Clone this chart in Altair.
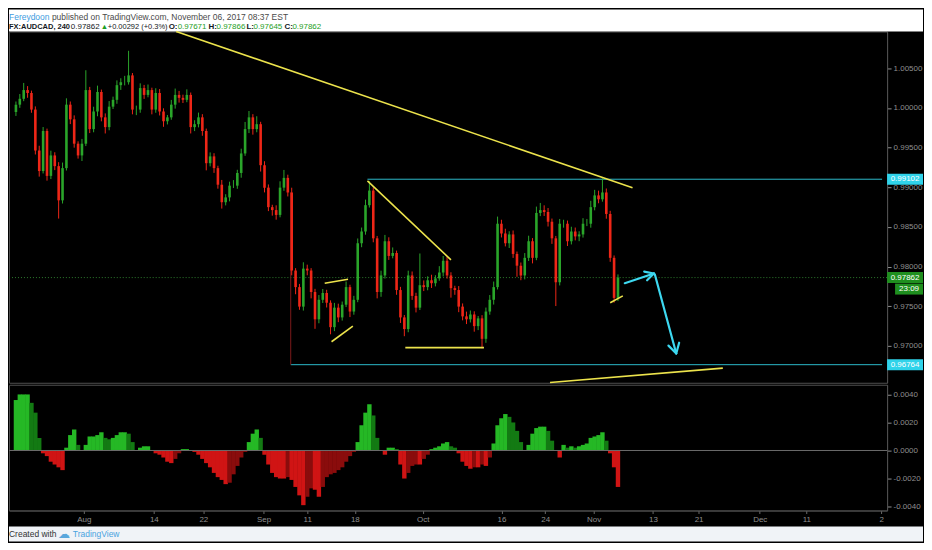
import altair as alt
import numpy as np
import pandas as pd

# AUDCAD 240 closes (one value every ~4 px)
closes = [
    1.00042, 1.00116, 1.00226, 1.00189, 0.99980, 0.99464, 0.99205, 0.99710, 0.99144, 0.99402,
    0.99267, 0.98836, 0.99242, 1.00042, 0.99857, 0.99550, 0.99402, 0.99550, 1.00226, 0.99734,
    0.99956, 1.00202, 0.99882, 0.99759, 1.00017, 1.00103, 1.00288, 1.00325, 1.00325, 1.00411,
    0.99980, 0.99980, 1.00251, 1.00165, 1.00226, 0.99980, 1.00189, 0.99956, 0.99833, 0.99882,
    1.00042, 1.00165, 1.00128, 1.00103, 1.00165, 0.99759, 0.99796, 0.99882, 0.99710, 0.99304,
    0.99390, 0.99242, 0.99033, 0.98812, 0.98873, 0.99021, 0.99021, 0.99181, 0.99427, 0.99734,
    0.99882, 0.99734, 0.99796, 0.99279, 0.98996, 0.98750, 0.98713, 0.98652, 0.98996, 0.99119,
    0.98935, 0.97951, 0.97742, 0.97496, 0.97975, 0.97951, 0.97680, 0.97336, 0.97582, 0.97668,
    0.97545, 0.97237, 0.97483, 0.97360, 0.97520, 0.97742, 0.97434, 0.97582, 0.98295, 0.98443,
    0.98775, 0.98959, 0.98357, 0.97680, 0.97889, 0.98320, 0.98135, 0.98172, 0.97705, 0.97360,
    0.97213, 0.97889, 0.97631, 0.97483, 0.97766, 0.97742, 0.97828, 0.97791, 0.97852, 0.97926,
    0.98074, 0.97889, 0.97729, 0.97705, 0.97496, 0.97373, 0.97336, 0.97397, 0.97250, 0.97348,
    0.97090, 0.97434, 0.97582, 0.97742, 0.98541, 0.98418, 0.98295, 0.98406, 0.98160, 0.98012,
    0.97889, 0.98111, 0.98320, 0.98111, 0.98677, 0.98713, 0.98689, 0.98566, 0.98357, 0.97803,
    0.98541, 0.98541, 0.98320, 0.98443, 0.98381, 0.98406, 0.98541, 0.98541, 0.98750, 0.98898,
    0.98849, 0.98935, 0.98664, 0.98111, 0.97606, 0.97862,
]
first_open = 0.99950

# wick lengths in pips above / below the body
wick_hi = [
    4, 6, 9, 5, 3, 4, 6, 5, 3, 6,
    4, 5, 7, 8, 4, 5, 3, 6, 25, 4,
    6, 8, 3, 5, 7, 4, 6, 5, 8, 31,
    3, 5, 6, 4, 7, 3, 6, 5, 4, 3,
    6, 8, 5, 4, 7, 3, 5, 6, 4, 3,
    5, 4, 3, 6, 4, 5, 7, 4, 6, 9,
    8, 4, 10, 3, 5, 4, 3, 6, 8, 10,
    4, 6, 3, 4, 8, 5, 3, 4, 6, 5,
    4, 3, 6, 5, 4, 7, 3, 5, 6, 5,
    7, 12, 4, 3, 6, 8, 5, 7, 3, 4,
    3, 6, 5, 4, 40, 6, 5, 7, 4, 8,
    6, 5, 4, 3, 5, 4, 6, 5, 4, 3,
    4, 5, 6, 7, 9, 5, 6, 4, 5, 3,
    4, 6, 7, 4, 8, 9, 6, 5, 4, 3,
    6, 5, 4, 6, 5, 4, 7, 6, 8, 7,
    6, 18, 5, 4, 3, 4,
]
wick_lo = [
    5, 4, 3, 6, 4, 5, 7, 3, 6, 4,
    5, 23, 4, 3, 6, 5, 4, 7, 3, 5,
    4, 6, 5, 8, 4, 3, 5, 6, 4, 3,
    6, 7, 4, 5, 3, 6, 4, 5, 7, 4,
    3, 5, 6, 4, 3, 8, 5, 4, 6, 9,
    4, 6, 5, 8, 4, 5, 3, 4, 6, 3,
    5, 7, 4, 8, 6, 5, 7, 6, 3, 4,
    5, 6, 9, 4, 5, 6, 8, 12, 5, 4,
    6, 9, 5, 6, 4, 3, 7, 4, 3, 5,
    4, 3, 5, 8, 6, 4, 5, 3, 6, 7,
    9, 4, 5, 6, 3, 5, 4, 6, 4, 3,
    5, 4, 12, 6, 7, 5, 6, 4, 7, 5,
    12, 5, 4, 6, 3, 5, 4, 6, 5, 14,
    6, 5, 4, 7, 3, 4, 5, 6, 7, 30,
    4, 5, 6, 4, 5, 6, 4, 3, 5, 4,
    5, 3, 6, 5, 6, 4,
]

# oscillator histogram (lower pane)
hist = [
    0.0036, 0.0040, 0.0040, 0.0040, 0.0034, 0.0027, 0.0009, -0.0002, -0.0004, -0.0008,
    -0.0010, -0.0012, -0.0014, 0.0002, 0.0011, 0.0015, 0.0004, 0.0000, 0.0004, 0.0010,
    0.0010, 0.0011, 0.0013, 0.0009, 0.0008, 0.0009, 0.0011, 0.0013, 0.0013, 0.0012,
    0.0006, 0.0000, 0.0002, 0.0003, 0.0003, 0.0000, -0.0002, -0.0003, -0.0005, -0.0008,
    -0.0009, -0.0006, -0.0002, 0.0001, 0.0001, 0.0000, -0.0001, -0.0003, -0.0006, -0.0009,
    -0.0012, -0.0016, -0.0019, -0.0021, -0.0024, -0.0023, -0.0017, -0.0011, -0.0005, -0.0001,
    0.0006, 0.0012, 0.0015, 0.0009, -0.0003, -0.0010, -0.0016, -0.0019, -0.0020, -0.0020,
    -0.0019, -0.0021, -0.0026, -0.0032, -0.0039, -0.0033, -0.0027, -0.0028, -0.0033, -0.0026,
    -0.0019, -0.0017, -0.0016, -0.0014, -0.0012, -0.0008, -0.0004, -0.0001, 0.0006, 0.0018,
    0.0027, 0.0033, 0.0025, 0.0009, 0.0000, -0.0003, 0.0002, 0.0002, 0.0001, -0.0010,
    -0.0020, -0.0016, -0.0011, -0.0010, -0.0010, -0.0006, -0.0003, 0.0001, 0.0002, 0.0003,
    0.0005, 0.0006, 0.0003, 0.0002, -0.0002, -0.0008, -0.0011, -0.0013, -0.0012, -0.0012,
    -0.0010, -0.0011, -0.0005, 0.0005, 0.0018, 0.0023, 0.0026, 0.0024, 0.0020, 0.0014,
    0.0006, 0.0000, 0.0004, 0.0012, 0.0016, 0.0017, 0.0017, 0.0014, 0.0007, 0.0000,
    -0.0005, 0.0004, 0.0002, 0.0003, 0.0002, 0.0003, 0.0004, 0.0005, 0.0009, 0.0010,
    0.0011, 0.0013, 0.0007, -0.0002, -0.0012, -0.0026,
]

price_ticks = [0.970, 0.975, 0.980, 0.985, 0.990, 0.995, 1.000, 1.005]
osc_ticks = [-0.004, -0.002, 0.0, 0.002, 0.004]
date_pos = [17.5, 35.5, 48.25, 63.75, 75, 87.25, 104.75, 125, 136.25, 148.75,
            164, 175.75, 191.5, 203.5, 222.75]
date_labels = ["Aug", "14", "22", "Sep", "11", "18", "Oct", "16", "24", "Nov",
               "13", "21", "Dec", "11", "2"]

# hand-drawn lines (bar index, price)
yl_x0 = [41.25, 79.5, 81.25, 90.5, 100.25, 153.0, 137.5]
yl_p0 = [1.00964, 0.97791, 0.97053, 0.99082, 0.96979, 0.97545, 0.96540]
yl_x1 = [158.75, 85.5, 86.75, 112.0, 120.5, 156.25, 182.0]
yl_p1 = [0.98996, 0.97840, 0.97250, 0.98086, 0.96979, 0.97631, 0.96721]

level_x0 = [90.5, 70.75]
level_p = [0.99102, 0.96764]
vline_x = [70.75]
vline_p0 = [0.98935]
vline_p1 = [0.96764]

arr_x0 = [156.75, 164.25, 164.25, 164.5, 170.0, 170.0]
arr_p0 = [0.97791, 0.97914, 0.97914, 0.97902, 0.96905, 0.96905]
arr_x1 = [164.25, 161.75, 162.5, 170.0, 168.0, 170.75]
arr_p1 = [0.97914, 0.97938, 0.97828, 0.96905, 0.97004, 0.97041]

last_price = 0.97862
line_tag_p = [0.99102, 0.96764]
line_tag_t = ["0.99102", "0.96764"]
last_tag_p = [0.97862]
last_tag_t = ["0.97862"]
timer_p = [0.97717]
timer_t = ["23:09"]

# layout / style
W, H_MAIN, H_OSC, RIGHT = 880, 352, 126, 916
X_DOM = [-0.5, 223]
P_DOM = [0.96536, 1.00964]
O_DOM = [-0.00428, 0.00469]
TAG_HALF = 0.00069
FONT = "Liberation Sans"
GREEN, RED = "#2aa52a", "#ee2617"
YELLOW, CYAN, ARROW = "#ece34c", "#2bb8c9", "#3dd8f0"
AXIS_GREY = "#8f8f8f"

xs = alt.Scale(domain=X_DOM, nice=False, zero=False)
ps = alt.Scale(domain=P_DOM, nice=False, zero=False)
osc_scale = alt.Scale(domain=O_DOM, nice=False, zero=False)

price_axis = alt.Axis(orient="right", values=price_ticks, format=".5f", title=None,
                      grid=False, labelColor=AXIS_GREY, tickColor=AXIS_GREY,
                      domainColor="#4f4f4f", tickSize=4, labelPadding=2,
                      labelFontSize=8, labelFont=FONT)


def X(f):
    return alt.X(f"{f}:Q", scale=xs, axis=None)


def Y(f):
    return alt.Y(f"{f}:Q", scale=ps, axis=price_axis)


# candles
df = pd.DataFrame({"i": np.arange(len(closes)), "close": closes,
                   "up": wick_hi, "dn": wick_lo})
df["open"] = df["close"].shift(1).fillna(first_open)
df["high"] = df[["open", "close"]].max(axis=1) + df["up"] * 1e-4
df["low"] = df[["open", "close"]].min(axis=1) - df["dn"] * 1e-4
df["dir"] = np.where(df["close"] >= df["open"], "up", "down")
ccol = alt.Color("dir:N", scale=alt.Scale(domain=["up", "down"], range=[GREEN, RED]),
                 legend=None)

wicks = alt.Chart(df).mark_rule(strokeWidth=1).encode(
    x=X("i"), y=Y("low"), y2="high", color=ccol)
bodies = alt.Chart(df).mark_bar(size=2.6).encode(
    x=X("i"), y=Y("open"), y2="close", color=ccol)

dotted = alt.Chart(pd.DataFrame({"p": [last_price]})).mark_rule(
    color="#2d7a2d", strokeDash=[1, 2], strokeWidth=1).encode(y=Y("p"))

lv = pd.DataFrame({"x0": level_x0, "x1": X_DOM[1], "p": level_p})
levels = alt.Chart(lv).mark_rule(color=CYAN, strokeWidth=1).encode(
    x=X("x0"), x2="x1", y=Y("p"))

vl = pd.DataFrame({"x": vline_x, "p0": vline_p0, "p1": vline_p1})
vline = alt.Chart(vl).mark_rule(color="#7d1a1a", strokeWidth=1).encode(
    x=X("x"), y=Y("p0"), y2="p1")

yw = pd.DataFrame({"x0": yl_x0, "p0": yl_p0, "x1": yl_x1, "p1": yl_p1})
yellow = alt.Chart(yw).mark_rule(color=YELLOW, strokeWidth=1.6).encode(
    x=X("x0"), x2="x1", y=Y("p0"), y2="p1")

aw = pd.DataFrame({"x0": arr_x0, "p0": arr_p0, "x1": arr_x1, "p1": arr_p1})
arrows = alt.Chart(aw).mark_rule(color=ARROW, strokeWidth=2.2, strokeCap="round").encode(
    x=X("x0"), x2="x1", y=Y("p0"), y2="p1")


def tag(prices, texts, fill, x0):
    t = pd.DataFrame({"p": prices, "t": texts})
    t["top"] = t["p"] + TAG_HALF
    t["bot"] = t["p"] - TAG_HALF
    box = alt.Chart(t).mark_rect(color=fill).encode(
        x=alt.value(x0), x2=alt.value(RIGHT), y=Y("top"), y2="bot")
    txt = alt.Chart(t).mark_text(color="white", fontSize=8, font=FONT).encode(
        x=alt.value((x0 + RIGHT) / 2), y=Y("p"), text="t:N")
    return [box, txt]


tags = (tag(line_tag_p, line_tag_t, "#2fd3ea", W)
        + tag(last_tag_p, last_tag_t, "#1f8f1f", W)
        + tag(timer_p, timer_t, "#1f8f1f", W + 8))

# header
one = pd.DataFrame({"a": [0]})
header_bg = alt.Chart(one).mark_rect(color="white").encode(
    x=alt.value(0), x2=alt.value(RIGHT), y=alt.value(-22), y2=alt.value(0))
header_bits = [
    ("Fereydoon", 0, -15, "#3d9be0", "normal", 8.5),
    ("published on TradingView.com, November 06, 2017 08:37 EST", 43, -15, "#4a4a4a", "normal", 8.5),
    ("FX:AUDCAD, 240", 0, -5, "#131722", "bold", 7.5),
    ("0.97862", 62, -5, "#131722", "normal", 8),
    ("\u25b2", 92, -5, "#1e9e1e", "normal", 7.5),
    ("+0.00292 (+0.3%)", 99, -5, "#131722", "normal", 7.5),
    ("O:", 160, -5, "#131722", "bold", 8),
    ("0.97671", 169, -5, "#1e9e1e", "normal", 8),
    ("H:", 200, -5, "#131722", "bold", 8),
    ("0.97866", 208, -5, "#1e9e1e", "normal", 8),
    ("L:", 238, -5, "#131722", "bold", 8),
    ("0.97645", 245, -5, "#1e9e1e", "normal", 8),
    ("C:", 276, -5, "#131722", "bold", 8),
    ("0.97862", 284, -5, "#1e9e1e", "normal", 8),
]
header = [
    alt.Chart(pd.DataFrame({"t": [s]})).mark_text(
        align="left", baseline="middle", color=c, fontWeight=fw, fontSize=fs, font=FONT
    ).encode(x=alt.value(x), y=alt.value(y), text="t:N")
    for s, x, y, c, fw, fs in header_bits
]

main = alt.layer(
    header_bg, *header, dotted, levels, vline, wicks, bodies, yellow, arrows, *tags
).properties(width=W, height=H_MAIN)

# oscillator pane
hd = pd.DataFrame({"i": np.arange(len(hist)), "v": hist})
prev = hd["v"].shift(1).fillna(hd["v"])
hd["tone"] = np.select(
    [(hd["v"] >= 0) & (hd["v"] >= prev), hd["v"] >= 0, hd["v"] <= prev],
    ["pos_up", "pos_dn", "neg_dn"], "neg_up")

date_expr = ("[" + ",".join(f"'{l}'" for l in date_labels) + "][indexof(["
             + ",".join(f"{p:g}" for p in date_pos) + "], datum.value)]")
date_axis = alt.Axis(values=date_pos, labelExpr=date_expr, title=None, grid=False,
                     labelColor=AXIS_GREY, tickColor="#6a6a6a", domainColor="#4f4f4f",
                     tickSize=3, labelPadding=2, labelFontSize=8, labelFont=FONT,
                     labelFlush=False, labelOverlap=False)
osc_axis = alt.Axis(orient="right", values=osc_ticks, title=None, grid=False,
                    labelExpr="replace(format(datum.value, '.4f'), '\u2212', '-')",
                    labelColor=AXIS_GREY, tickColor=AXIS_GREY, domainColor="#4f4f4f",
                    tickSize=4, labelPadding=2, labelFontSize=8, labelFont=FONT)

bars = alt.Chart(hd).mark_bar(size=4.4).encode(
    x=alt.X("i:Q", scale=xs, axis=date_axis),
    y=alt.Y("v:Q", scale=osc_scale, axis=osc_axis),
    y2=alt.datum(0),
    color=alt.Color("tone:N", scale=alt.Scale(
        domain=["pos_up", "pos_dn", "neg_dn", "neg_up"],
        range=["#25b825", "#137a13", "#d01414", "#8a0c0c"]), legend=None),
)
zero = alt.Chart(pd.DataFrame({"z": [0.0]})).mark_rule(color="#6b6b6b").encode(
    y=alt.Y("z:Q", scale=osc_scale, axis=osc_axis))

footer_bg = alt.Chart(one).mark_rect(color="#f0f3f7").encode(
    x=alt.value(0), x2=alt.value(RIGHT), y=alt.value(H_OSC + 16), y2=alt.value(H_OSC + 31))
footer_bits = [
    ("Created with", 0, "#333333", 8.5),
    ("\u2601", 49, "#5aa7dc", 12),
    ("TradingView", 64, "#4aa3df", 8.5),
]
footer = [
    alt.Chart(pd.DataFrame({"t": [s]})).mark_text(
        align="left", baseline="middle", color=c, fontSize=fs, font=FONT
    ).encode(x=alt.value(x), y=alt.value(H_OSC + 24), text="t:N")
    for s, x, c, fs in footer_bits
]

osc = alt.layer(bars, zero, footer_bg, *footer).properties(width=W, height=H_OSC)

chart = alt.vconcat(main, osc, spacing=0).resolve_scale(
    x="independent", y="independent", color="independent"
).properties(background="black", padding=0).configure_view(
    stroke="#4f4f4f", strokeWidth=1
)

chart.save("out.html", embed_options={"renderer": "svg", "actions": False})
